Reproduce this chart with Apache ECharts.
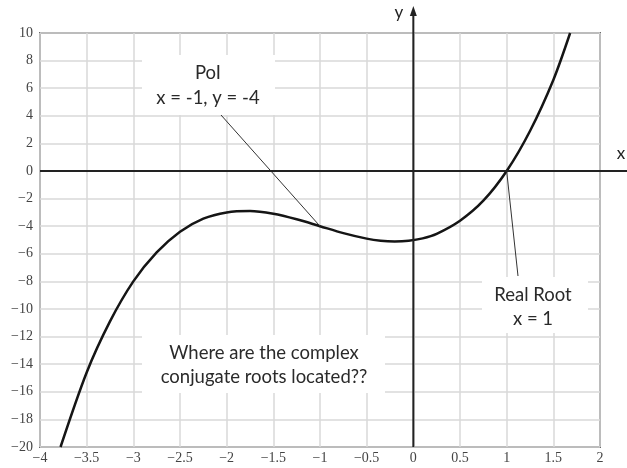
<!DOCTYPE html>
<html>
<head>
<meta charset="utf-8">
<script src="https://cdn.jsdelivr.net/npm/echarts@6/dist/echarts.min.js"></script>
<style>
  html, body { margin: 0; padding: 0; background: #fff; }
  #chart { width: 627px; height: 468px; }
</style>
</head>
<body>
<div id="chart"></div>
<script>
// Cubic curve sampled along x, with the matching y values
const curveX = [-3.78, -3.5, -3.25, -3, -2.75, -2.5, -2.25, -2, -1.75, -1.5, -1.25, -1,
                -0.75, -0.5, -0.35, -0.2, -0.05, 0.1, 0.25, 0.5, 0.75, 1, 1.25, 1.5, 1.68];
const curveY = [-20, -14.6, -10.9, -8, -5.9, -4.4, -3.45, -3, -2.9, -3.1, -3.5, -4,
                -4.5, -4.9, -5.05, -5.1, -5.05, -4.88, -4.55, -3.6, -2.15, 0, 2.9, 6.6, 10];

// Axis ranges and tick spacing
const xRange = [-4, 2];
const xStep = 0.5;
const yRange = [-20, 10];
const yStep = 2;

// Annotated points
const inflection = [-1, -4];
const realRoot = [1, 0];

const annoText = {
  poi: ['PoI', 'x = -1, y = -4'],
  root: ['Real Root', 'x = 1'],
  question: ['Where are the complex', 'conjugate roots located??']
};

const chart = echarts.init(document.getElementById('chart'));

const minusFmt = v => String(v).replace('-', '\u2212');
const tickFont = { fontFamily: 'Liberation Serif', fontSize: 14, color: '#444' };

chart.setOption({
  animation: false,
  grid: {
    left: 40, right: 27, top: 33, bottom: 21,
    show: true, borderColor: '#6a6a6a', borderWidth: 2, backgroundColor: '#fff'
  },
  xAxis: {
    type: 'value', min: xRange[0], max: xRange[1], interval: xStep,
    axisLine: { show: false }, axisTick: { show: false },
    axisLabel: Object.assign({ formatter: minusFmt, margin: 4 }, tickFont),
    splitLine: { show: true, lineStyle: { color: '#d8d8d8', width: 1.5 } }
  },
  yAxis: {
    type: 'value', min: yRange[0], max: yRange[1], interval: yStep,
    axisLine: { show: false }, axisTick: { show: false },
    axisLabel: Object.assign({ formatter: minusFmt, margin: 7 }, tickFont),
    splitLine: { show: true, lineStyle: { color: '#d8d8d8', width: 1.5 } }
  },
  series: [{
    type: 'line',
    data: curveX.map((x, i) => [x, curveY[i]]),
    smooth: 0.3,
    symbol: 'none',
    lineStyle: { color: '#151515', width: 2.5 },
    z: 5
  }]
});

const px = (x, y) => chart.convertToPixel({ gridIndex: 0 }, [x, y]);
const origin = px(0, 0);
const yBottom = px(0, yRange[0]);
const xLeft = px(xRange[0], 0);
const inflPx = px(inflection[0], inflection[1]);
const rootPx = px(realRoot[0], realRoot[1]);

const labelFont = '18.5px Lato';
function textBlock(lines, cx, top, lh) {
  return lines.map((t, i) => ({
    type: 'text', z: 12,
    style: {
      text: t, x: cx, y: top + i * lh, textAlign: 'center', textVerticalAlign: 'middle',
      font: labelFont, fill: '#2a2a2a'
    }
  }));
}
function box(x, y, w, h) {
  return { type: 'rect', z: 10, shape: { x, y, width: w, height: h }, style: { fill: '#fff' } };
}

chart.setOption({
  graphic: [
    // white panels behind the notes
    box(142, 55, 133, 60),
    box(142, 335, 243, 58),
    box(482, 277, 106, 56),
    // coordinate axes through the origin
    { type: 'line', z: 20, shape: { x1: xLeft[0], y1: origin[1], x2: 627, y2: origin[1] },
      style: { stroke: '#222', lineWidth: 2 } },
    { type: 'line', z: 20, shape: { x1: origin[0], y1: yBottom[1], x2: origin[0], y2: 12 },
      style: { stroke: '#222', lineWidth: 2 } },
    { type: 'polygon', z: 20,
      shape: { points: [[origin[0], 6], [origin[0] - 3.5, 16], [origin[0] + 3.5, 16]] },
      style: { fill: '#222' } },
    { type: 'text', z: 20, style: { text: 'y', x: 399, y: 13, textAlign: 'center',
      textVerticalAlign: 'middle', font: '17px Lato', fill: '#222' } },
    { type: 'text', z: 20, style: { text: 'x', x: 621, y: 154, textAlign: 'center',
      textVerticalAlign: 'middle', font: '17px Lato', fill: '#222' } },
    // leader lines
    { type: 'line', z: 15, shape: { x1: 221, y1: 115, x2: inflPx[0], y2: inflPx[1] },
      style: { stroke: '#333', lineWidth: 1 } },
    { type: 'line', z: 15, shape: { x1: rootPx[0], y1: rootPx[1], x2: 518, y2: 276 },
      style: { stroke: '#333', lineWidth: 1 } },
    ...textBlock(annoText.poi, 208, 73, 25),
    ...textBlock(annoText.root, 533, 295, 24),
    ...textBlock(annoText.question, 264, 353, 24)
  ]
});
</script>
</body>
</html>
